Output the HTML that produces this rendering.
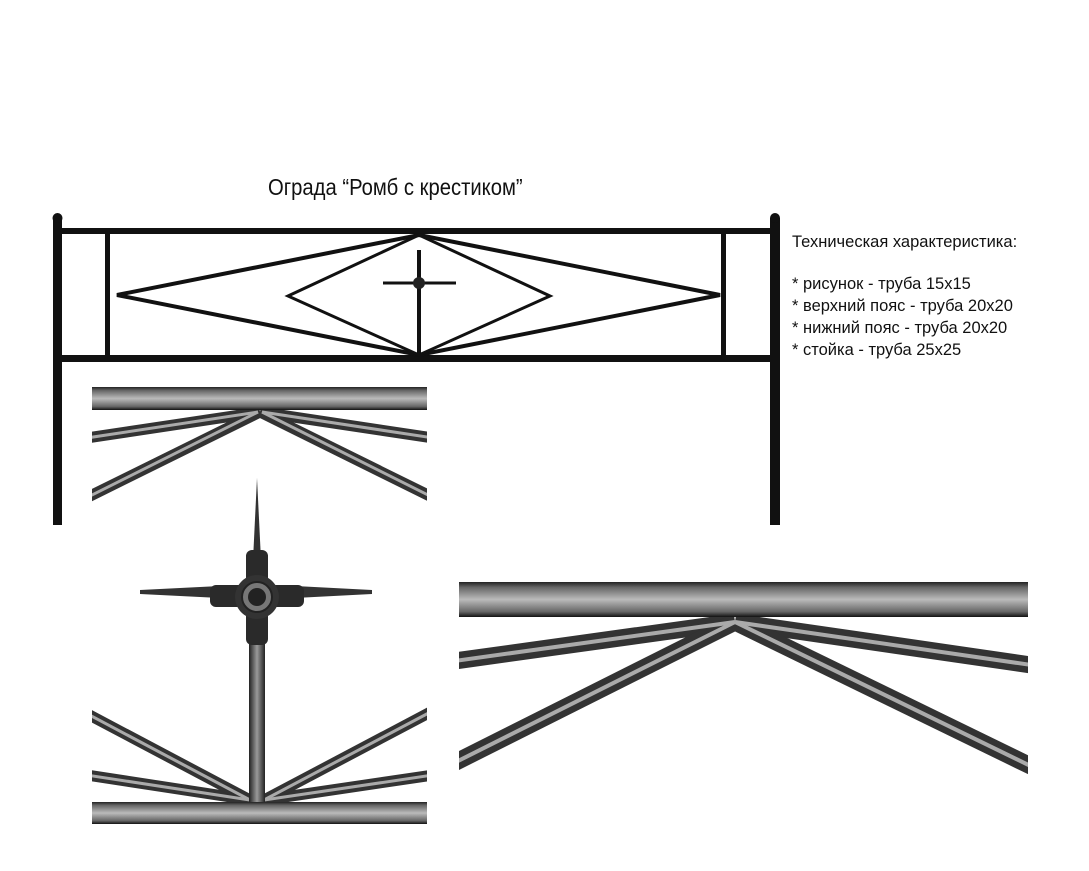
<!DOCTYPE html>
<html><head><meta charset="utf-8"><style>
body{margin:0;background:#fff;width:1089px;height:871px;overflow:hidden;font-family:"Liberation Sans",sans-serif}
.t{position:absolute;color:#111;font-size:16.5px;line-height:22px;white-space:nowrap}
</style></head><body>
<div class="t" style="left:268px;top:176px;font-size:23px;transform:scaleX(0.88);transform-origin:left">Ограда “Ромб с крестиком”</div>
<div class="t" style="left:792px;top:231px">Техническая характеристика:</div>
<div class="t" style="left:792px;top:273px">* рисунок - труба 15х15<br>* верхний пояс - труба 20х20<br>* нижний пояс - труба 20х20<br>* стойка - труба 25х25</div>
<svg width="1089" height="871" style="position:absolute;left:0;top:0">
<defs>
<linearGradient id="bar" x1="0" y1="0" x2="0" y2="1">
<stop offset="0" stop-color="#222"/><stop offset="0.15" stop-color="#666"/><stop offset="0.5" stop-color="#bbb"/><stop offset="0.85" stop-color="#666"/><stop offset="1" stop-color="#111"/></linearGradient>
<linearGradient id="vb" x1="0" y1="0" x2="1" y2="0">
<stop offset="0" stop-color="#222"/><stop offset="0.5" stop-color="#999"/><stop offset="1" stop-color="#222"/></linearGradient>
<clipPath id="c1"><rect x="92" y="380" width="335" height="130"/></clipPath>
<clipPath id="c2"><rect x="92" y="690" width="335" height="130"/></clipPath>
<clipPath id="c3"><rect x="459" y="580" width="569" height="200"/></clipPath>
</defs>
<g fill="#111">
<rect x="53" y="218" width="9" height="307"/><circle cx="57.5" cy="218" r="5"/>
<rect x="770" y="218" width="10" height="307"/><circle cx="775" cy="218" r="5"/>
<rect x="53" y="228" width="727" height="6"/>
<rect x="53" y="355" width="727" height="7"/>
<rect x="105" y="234" width="5" height="121"/>
<rect x="721" y="234" width="5" height="121"/>
</g>
<g stroke="#111" stroke-width="4" fill="none">
<polygon points="419,235 720,295 419,355 117,295"/>
<polygon stroke-width="3" points="419,235 550,296 419,355 288,296"/>
<line x1="419" y1="250" x2="419" y2="355"/>
<line x1="383" y1="283" x2="456" y2="283" stroke-width="3"/>
</g>
<circle cx="419" cy="283" r="6" fill="#222"/>
<g clip-path="url(#c1)">
<g stroke="#333" stroke-width="11">
<line x1="260" y1="412" x2="80" y2="439"/><line x1="260" y1="412" x2="80" y2="501"/>
<line x1="260" y1="412" x2="440" y2="439"/><line x1="260" y1="412" x2="440" y2="501"/>
</g>
<g stroke="#aaa" stroke-width="3">
<line x1="258" y1="412" x2="80" y2="439"/><line x1="258" y1="412" x2="80" y2="501"/>
<line x1="262" y1="412" x2="440" y2="439"/><line x1="262" y1="412" x2="440" y2="501"/>
</g></g>
<rect x="92" y="387" width="335" height="23" fill="url(#bar)"/>
<g clip-path="url(#c2)">
<g stroke="#333" stroke-width="11">
<line x1="250" y1="800" x2="80" y2="774"/><line x1="250" y1="800" x2="80" y2="710"/>
<line x1="264" y1="800" x2="440" y2="774"/><line x1="264" y1="800" x2="440" y2="707"/>
</g>
<g stroke="#aaa" stroke-width="3">
<line x1="250" y1="800" x2="80" y2="774"/><line x1="250" y1="800" x2="80" y2="710"/>
<line x1="264" y1="800" x2="440" y2="774"/><line x1="264" y1="800" x2="440" y2="707"/>
</g></g>
<rect x="92" y="802" width="335" height="22" fill="url(#bar)"/>
<rect x="249" y="600" width="16" height="202" fill="url(#vb)"/>
<polygon points="253,560 257,478 261,560" fill="#333"/>
<polygon points="140,590 220,586 220,598 140,594" fill="#333"/>
<polygon points="372,590 295,586 295,598 372,594" fill="#333"/>
<rect x="246" y="550" width="22" height="95" rx="6" fill="#2a2a2a"/>
<rect x="210" y="585" width="94" height="22" rx="6" fill="#2a2a2a"/>
<circle cx="257" cy="597" r="22" fill="#333"/>
<circle cx="257" cy="597" r="15" fill="#777" stroke="#222" stroke-width="2"/>
<circle cx="257" cy="597" r="9" fill="#222"/>
<g clip-path="url(#c3)">
<g stroke="#333" stroke-width="17">
<line x1="735" y1="622" x2="440" y2="663"/><line x1="735" y1="622" x2="440" y2="770"/>
<line x1="735" y1="622" x2="1045" y2="667"/><line x1="735" y1="622" x2="1045" y2="773"/>
</g>
<g stroke="#aaa" stroke-width="4">
<line x1="735" y1="622" x2="440" y2="663"/><line x1="735" y1="622" x2="440" y2="770"/>
<line x1="735" y1="622" x2="1045" y2="667"/><line x1="735" y1="622" x2="1045" y2="773"/>
</g></g>
<rect x="459" y="582" width="569" height="35" fill="url(#bar)"/>
</svg>
</body></html>
